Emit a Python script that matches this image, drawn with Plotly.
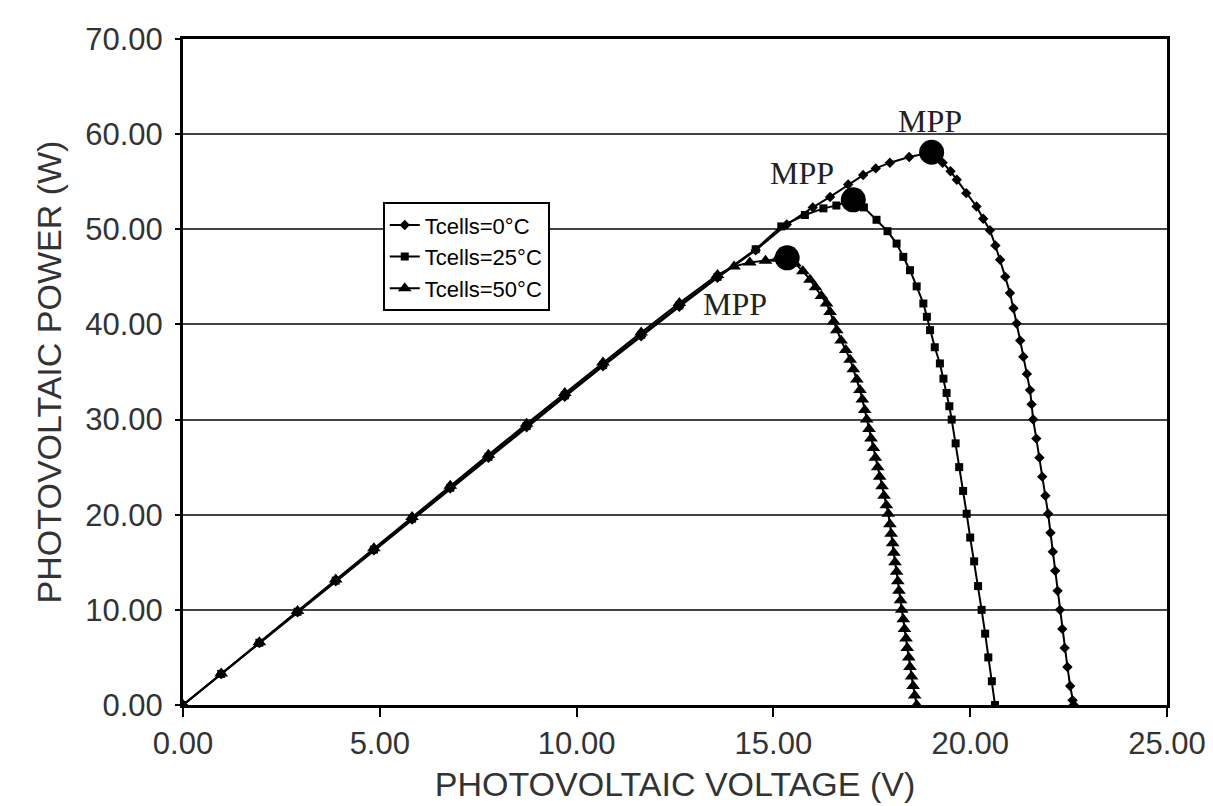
import plotly.graph_objects as go

# ---- data ----
v_0c = [0, 0.97, 1.94, 2.91, 3.88, 4.85, 5.82, 6.79, 7.76, 8.73, 9.70, 10.67, 11.64, 12.61, 13.58,
        14.55, 15.34, 16.00, 16.44, 16.90, 17.28, 17.60, 17.96, 18.45, 19.02,
        19.30, 19.50, 19.66, 19.90, 20.16, 20.33, 20.50, 20.64, 20.76, 20.89, 21.01, 21.10, 21.18,
        21.27, 21.35, 21.44, 21.52, 21.56, 21.60, 21.68, 21.76, 21.83, 21.91, 21.98, 22.04, 22.10,
        22.16, 22.22, 22.28, 22.34, 22.40, 22.47, 22.54, 22.60, 22.63]
p_0c = [0, 3.25, 6.50, 9.75, 13.00, 16.25, 19.50, 22.75, 25.98, 29.20, 32.40, 35.60, 38.75, 41.85, 44.90,
        47.80, 50.50, 52.30, 53.40, 54.70, 55.70, 56.40, 57.00, 57.60, 58.10,
        57.00, 56.10, 55.20, 53.80, 52.40, 51.10, 49.90, 48.30, 46.80, 45.00, 43.30, 41.70, 40.10,
        38.30, 36.60, 34.80, 33.10, 31.60, 30.00, 28.00, 26.00, 24.00, 22.00, 20.10, 18.10, 16.10,
        14.10, 12.00, 10.00, 8.00, 6.00, 4.00, 2.00, 0.50, 0.00]

v_25c = [0, 0.97, 1.94, 2.91, 3.88, 4.85, 5.82, 6.79, 7.76, 8.73, 9.70, 10.67, 11.64, 12.61, 13.58,
         14.55, 15.20, 15.80, 16.27, 16.60, 17.03,
         17.30, 17.62, 17.90, 18.13, 18.30, 18.47, 18.64, 18.81, 18.90, 18.98, 19.10, 19.23, 19.32,
         19.40, 19.47, 19.53, 19.63, 19.72, 19.82, 19.91, 20.00, 20.10, 20.20, 20.29, 20.38, 20.46,
         20.55, 20.63]
p_25c = [0, 3.27, 6.54, 9.80, 13.07, 16.33, 19.59, 22.84, 26.08, 29.32, 32.54, 35.74, 38.90, 42.00, 45.00,
         47.90, 50.30, 51.50, 52.20, 52.50, 53.10,
         52.30, 51.00, 49.80, 48.50, 47.10, 45.70, 44.00, 42.20, 40.80, 39.40, 37.60, 35.90, 34.30,
         32.80, 31.40, 30.00, 27.50, 25.00, 22.50, 20.10, 17.60, 15.10, 12.50, 10.00, 7.50, 5.00,
         2.50, 0.00]

v_50c = [0, 0.97, 1.94, 2.91, 3.88, 4.85, 5.82, 6.79, 7.76, 8.73, 9.70, 10.67, 11.64, 12.61, 13.58,
         14.00, 14.40, 14.80, 15.10, 15.35,
         15.55, 15.75, 15.93, 16.07, 16.22, 16.35, 16.44, 16.53, 16.61, 16.72, 16.84, 16.95, 17.03,
         17.12, 17.20, 17.26, 17.32, 17.37, 17.43, 17.48, 17.54, 17.59, 17.65, 17.70, 17.76, 17.81,
         17.87, 17.92, 17.96, 17.99, 18.03, 18.06, 18.09, 18.13, 18.16, 18.19, 18.23, 18.26, 18.30,
         18.33, 18.37, 18.40, 18.44, 18.47, 18.51, 18.55, 18.59, 18.64]
p_50c = [0, 3.30, 6.60, 9.89, 13.19, 16.48, 19.76, 23.04, 26.30, 29.55, 32.78, 36.00, 39.15, 42.25, 45.20,
         46.10, 46.50, 46.70, 46.90, 47.00,
         46.40, 45.60, 44.70, 43.90, 43.00, 42.20, 41.30, 40.30, 39.40, 38.30, 37.30, 36.30, 35.30,
         34.20, 33.10, 32.10, 31.00, 30.00, 29.00, 28.00, 27.00, 26.00, 25.00, 24.00, 23.00, 22.00,
         21.00, 20.10, 19.00, 18.00, 17.00, 16.00, 15.00, 14.00, 13.00, 12.00, 11.00, 10.00, 9.00,
         8.00, 7.00, 6.00, 5.00, 4.00, 3.00, 2.00, 1.00, 0.00]

mpp_v = [19.02, 17.03, 15.35]
mpp_p = [58.10, 53.10, 47.00]
mpp_label_v = [18.98, 15.72, 14.02]
mpp_label_p = [61.4, 55.9, 42.2]

series_names = ["Tcells=0°C", "Tcells=25°C", "Tcells=50°C"]
x_ticks = [0, 5, 10, 15, 20, 25]
y_ticks = [0, 10, 20, 30, 40, 50, 60, 70]

fig = go.Figure()

symbols = ["diamond", "square", "triangle-up"]
sizes = [8, 8, 12]
for (vv, pp), name, sym, sz in zip([(v_0c, p_0c), (v_25c, p_25c), (v_50c, p_50c)],
                                   series_names, symbols, sizes):
    fig.add_trace(go.Scatter(
        x=vv, y=pp, mode="lines+markers", name=name,
        line=dict(color="black", width=2),
        marker=dict(symbol=sym, size=sz, color="black"),
    ))

fig.add_trace(go.Scatter(
    x=mpp_v, y=mpp_p, mode="markers", showlegend=False,
    marker=dict(symbol="circle", size=25, color="black"),
))

for lv, lp in zip(mpp_label_v, mpp_label_p):
    fig.add_annotation(x=lv, y=lp, text="MPP", showarrow=False,
                       font=dict(family="Liberation Serif, Times New Roman, serif",
                                 size=32, color="#222"))

sans = "Liberation Sans, Arial, sans-serif"
tick_font = dict(family=sans, size=31, color="#333")
title_font = dict(family=sans, size=34, color="#333")

fig.update_layout(
    width=1213, height=806,
    margin=dict(l=183, r=46, t=39, b=101),
    paper_bgcolor="white", plot_bgcolor="white",
    font=tick_font,
    showlegend=True,
    legend=dict(
        x=0.203, y=0.755, xanchor="left", yanchor="top",
        bgcolor="white", bordercolor="black", borderwidth=2,
        font=dict(family=sans, size=22, color="black"),
        tracegroupgap=0, itemwidth=30,
    ),
    xaxis=dict(
        range=[0, 25], tickvals=x_ticks, tickformat=".2f",
        showgrid=False, zeroline=False, automargin=False,
        showline=True, linecolor="black", linewidth=3, mirror=True,
        ticks="outside", ticklen=9, tickwidth=2, tickcolor="black",
        tickfont=tick_font,
        title=dict(text="PHOTOVOLTAIC VOLTAGE (V)", standoff=12, font=title_font),
    ),
    yaxis=dict(
        range=[0, 70], tickvals=y_ticks, tickformat=".2f",
        showgrid=True, gridcolor="#444", gridwidth=2, zeroline=False, automargin=False,
        showline=True, linecolor="black", linewidth=3, mirror=True,
        ticks="outside", ticklen=5, tickwidth=2, tickcolor="black",
        ticklabelstandoff=6,
        tickfont=tick_font,
        title=dict(text="PHOTOVOLTAIC POWER (W)", standoff=14, font=title_font),
    ),
)

fig.write_html("out.html", config={"displayModeBar": False},
               post_script="document.body.style.margin='0';")
